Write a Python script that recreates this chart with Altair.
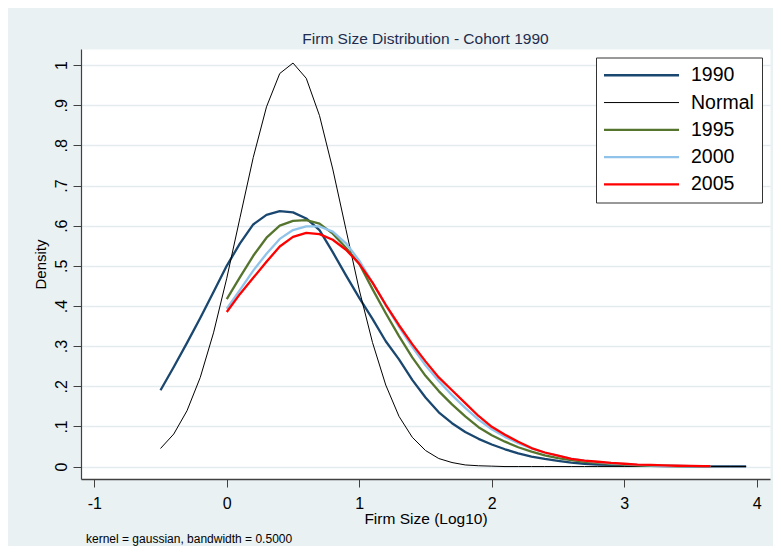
import altair as alt
import pandas as pd

SERIES = ["1990", "Normal", "1995", "2000", "2005"]
COLORS = ["#1a476f", "#000000", "#55752f", "#8fc3ea", "#ff0000"]
WIDTHS = [2.3, 1.0, 2.3, 2.3, 2.3]

X_TICKS = [-1, 0, 1, 2, 3, 4]
Y_TICKS = [0, 0.1, 0.2, 0.3, 0.4, 0.5, 0.6, 0.7, 0.8, 0.9, 1.0]

X_EARLY = [-0.5, -0.4, -0.3, -0.2, -0.1, 0.0, 0.1, 0.2, 0.3, 0.4, 0.5, 0.6, 0.7, 0.8, 0.9,
           1.0, 1.1, 1.2, 1.3, 1.4, 1.5, 1.6, 1.7, 1.8, 1.9, 2.0, 2.1, 2.2, 2.3, 2.4,
           2.5, 2.6, 2.7, 2.8, 2.9, 3.0, 3.1, 3.2, 3.3, 3.4, 3.5, 3.6, 3.7, 3.8, 3.92]
X_LATE = [0.0, 0.1, 0.2, 0.3, 0.4, 0.5, 0.6, 0.7, 0.8, 0.9,
          1.0, 1.1, 1.2, 1.3, 1.4, 1.5, 1.6, 1.7, 1.8, 1.9, 2.0, 2.1, 2.2, 2.3, 2.4,
          2.5, 2.6, 2.7, 2.8, 2.9, 3.0, 3.1, 3.2, 3.3, 3.4, 3.5, 3.6, 3.65]

Y_1990 = [0.190, 0.248, 0.308, 0.370, 0.435, 0.500, 0.556, 0.603, 0.627, 0.636, 0.633, 0.618,
          0.589, 0.534, 0.476, 0.420, 0.368, 0.312, 0.267, 0.216, 0.172, 0.135, 0.108, 0.086,
          0.069, 0.055, 0.043, 0.033, 0.025, 0.019, 0.014, 0.010, 0.007, 0.005, 0.004, 0.003,
          0.002, 0.0015, 0.001, 0.001, 0.0008, 0.0006, 0.0005, 0.0004, 0.0003]
Y_NORMAL = [0.045, 0.081, 0.139, 0.222, 0.333, 0.469, 0.620, 0.770, 0.896, 0.979, 1.005, 0.967,
            0.874, 0.741, 0.590, 0.440, 0.309, 0.203, 0.125, 0.073, 0.040, 0.020, 0.010, 0.004,
            0.002, 0.001, 0, 0, 0, 0, 0, 0, 0, 0, 0, 0, 0, 0, 0, 0, 0, 0, 0, 0, 0]
Y_1995 = [0.417, 0.472, 0.525, 0.570, 0.600, 0.612, 0.614, 0.605, 0.580, 0.545, 0.505, 0.442,
          0.382, 0.325, 0.272, 0.226, 0.188, 0.155, 0.125, 0.098, 0.078, 0.062, 0.048, 0.037,
          0.028, 0.021, 0.016, 0.012, 0.009, 0.006, 0.005, 0.003, 0.002, 0.002, 0.001, 0.001,
          0.001, 0.001]
Y_2000 = [0.393, 0.440, 0.488, 0.530, 0.567, 0.589, 0.598, 0.598, 0.585, 0.556, 0.513, 0.458,
          0.402, 0.348, 0.298, 0.252, 0.213, 0.178, 0.146, 0.117, 0.093, 0.074, 0.058, 0.045,
          0.035, 0.027, 0.020, 0.015, 0.011, 0.008, 0.006, 0.004, 0.003, 0.002, 0.002, 0.001,
          0.001, 0.001]
Y_2005 = [0.385, 0.430, 0.470, 0.510, 0.548, 0.572, 0.582, 0.579, 0.565, 0.540, 0.505, 0.458,
          0.403, 0.352, 0.305, 0.262, 0.222, 0.190, 0.158, 0.126, 0.099, 0.079, 0.062, 0.046,
          0.035, 0.027, 0.019, 0.015, 0.012, 0.009, 0.007, 0.005, 0.004, 0.003, 0.002, 0.0015,
          0.001, 0.001]

TITLE = "Firm Size Distribution - Cohort 1990"
NOTE = "kernel = gaussian, bandwidth = 0.5000"

rows = []
for name, xs, ys in [("1990", X_EARLY, Y_1990), ("Normal", X_EARLY, Y_NORMAL),
                     ("1995", X_LATE, Y_1995), ("2000", X_LATE, Y_2000),
                     ("2005", X_LATE, Y_2005)]:
    for i, (x, y) in enumerate(zip(xs, ys)):
        rows.append({"series": name, "x": x, "y": y, "i": i})
df = pd.DataFrame(rows)

FONT = "Liberation Sans"
AXC = "#404040"

x_enc = alt.X("x:Q", scale=alt.Scale(domain=[-1.1, 4.1], nice=False, zero=False),
              axis=alt.Axis(values=X_TICKS, labelExpr="'' + datum.value", grid=False,
                            tickSize=8, tickColor=AXC, domainColor=AXC, domainWidth=1.5,
                            tickWidth=1, labelFontSize=16, labelPadding=8, labelColor="black",
                            title="Firm Size (Log10)", titleFontSize=15.5, titleFontWeight="normal",
                            titleColor="black", titleX=344.5, titleY=44, titleAlign="center",
                            titleBaseline="alphabetic"))
y_enc = alt.Y("y:Q", scale=alt.Scale(domain=[-0.031, 1.04], nice=False, zero=False),
              axis=alt.Axis(values=Y_TICKS,
                            labelExpr="datum.value < 0.05 ? '0' : (datum.value > 0.95 ? '1' : '.' + round(datum.value * 10))",
                            grid=True, gridColor="#e3ebee", gridWidth=1.5,
                            tickSize=8, tickColor=AXC, domainColor=AXC, domainWidth=1.2,
                            labelAngle=270, labelAlign="center", labelBaseline="bottom",
                            labelFontSize=16, labelPadding=4, labelColor="black",
                            title="Density", titleFontSize=15, titleFontWeight="normal",
                            titleColor="black", titleAngle=270, titleX=-36, titleY=215,
                            titleAlign="center", titleBaseline="alphabetic"))

LEG = dict(title=None, orient="none", legendX=515, legendY=8.5,
           symbolType="M-1.22,0H8.16", symbolSize=256,
           labelOffset=67.5, labelFontSize=19.5, labelColor="black",
           labelFont=FONT, rowPadding=6.3, padding=8,
           strokeColor="#333333", fillColor="white",
           symbolFillColor="transparent")

color_enc = alt.Color("series:N", scale=alt.Scale(domain=SERIES, range=COLORS), sort=SERIES,
                      legend=alt.Legend(**LEG))
sw_enc = alt.StrokeWidth("series:N", scale=alt.Scale(type="ordinal", domain=SERIES, range=WIDTHS),
                         sort=SERIES, legend=alt.Legend(**LEG))

base = alt.Chart(df).mark_line(strokeJoin="round", strokeCap="butt").encode(
    x=x_enc, y=y_enc, color=color_enc, strokeWidth=sw_enc, order="i:Q"
)
layers = [base.transform_filter(alt.datum.series == s) for s in SERIES]

note = alt.Chart(pd.DataFrame({"t": [NOTE]})).mark_text(
    align="left", baseline="alphabetic", fontSize=12, font=FONT, color="black"
).encode(text="t:N", x=alt.value(5), y=alt.value(494))

chart = alt.layer(*layers, note).properties(
    width=689, height=430,
    title=alt.TitleParams(TITLE, fontSize=15.5, font=FONT, fontWeight="normal",
                          color="#1e2d4e", anchor="middle", offset=-10, baseline="alphabetic",
                          frame="group"),
    autosize=alt.AutoSizeParams(type="none"),
    padding={"left": 73, "top": 41, "right": 3, "bottom": 67},
).configure(
    background="#eaf1f3", font=FONT
).configure_view(
    fill="white", stroke="transparent"
).configure_axis(
    labelFont=FONT, titleFont=FONT
)

chart.save("out.html", embed_options={"renderer": "svg", "actions": False})
